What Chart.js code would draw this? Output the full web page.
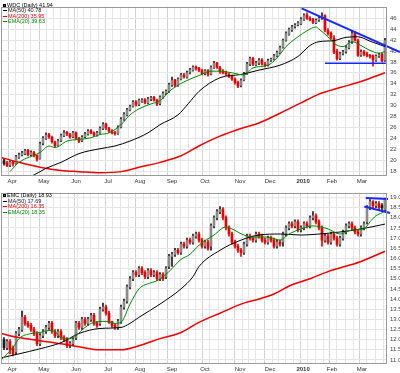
<!DOCTYPE html>
<html>
<head>
<meta charset="utf-8">
<script src="https://cdn.jsdelivr.net/npm/chart.js@4.4.0/dist/chart.umd.min.js"></script>
<style>
  html, body { margin: 0; padding: 0; background: #fff; }
  #wrap { position: relative; width: 400px; height: 373px; overflow: hidden;
          font-family: "Liberation Sans", Arial, sans-serif; }
  canvas { position: absolute; left: 0; }
  .legend { position: absolute; left: 3px; font-size: 5.5px; line-height: 5.5px; white-space: nowrap; }
  .legend .ln { display: inline-block; width: 4px; height: 1px; margin-right: 1px; vertical-align: middle; }
  .legend .ico { display: inline-block; width: 3px; height: 3px; border: 1px solid #000; background: #555;
                 margin-right: 1px; vertical-align: middle; box-sizing: border-box; }
</style>
</head>
<body>
<div id="wrap">
  <canvas id="wdc" width="400" height="186" style="top:0"></canvas>
  <canvas id="emc" width="400" height="187" style="top:186px"></canvas>

  <div class="legend" style="top:2.5px">
    <div style="color:#000"><span class="ico"></span>WDC (Daily) 41.94</div>
    <div style="color:#222"><span class="ln" style="background:#000"></span>MA(50) 40.78</div>
    <div style="color:#e00"><span class="ln" style="background:#e00"></span>MA(200) 35.95</div>
    <div style="color:#080"><span class="ln" style="background:#080"></span>EMA(20) 39.63</div>
  </div>
  <div class="legend" style="top:193.3px">
    <div style="color:#000"><span class="ico"></span>EMC (Daily) 18.93</div>
    <div style="color:#222"><span class="ln" style="background:#000"></span>MA(50) 17.69</div>
    <div style="color:#e00"><span class="ln" style="background:#e00"></span>MA(200) 16.35</div>
    <div style="color:#080"><span class="ln" style="background:#080"></span>EMA(20) 18.35</div>
  </div>
</div>

<script>
// ── x axis: one candle per two sessions, month starts in candle units ──
const months   = ['Apr', 'May', 'Jun', 'Jul', 'Aug', 'Sep', 'Oct', 'Nov', 'Dec', '2010', 'Feb', 'Mar'];
const monthPos = [2.7, 13.3, 24, 34.7, 45.3, 56, 67, 78.7, 88.7, 99.7, 109.3, 119.3];

// ── WDC candles ──
const wdcOpen = [19.9,19.5,19.1,19.7,19.4,20.5,21.0,21.2,21.8,21.0,
  21.4,20.9,20.3,23.1,24.0,24.7,24.2,23.3,22.7,23.6,
  24.5,25.1,24.7,24.3,25.0,24.0,23.6,24.3,24.8,25.4,
  25.0,24.6,25.1,25.8,26.6,25.8,25.3,25.1,24.9,26.1,
  27.5,28.3,29.2,29.9,30.7,30.2,30.8,31.1,30.5,31.2,
  31.5,31.0,30.4,31.5,32.3,32.7,33.8,34.7,33.7,34.9,
  35.6,35.2,36.1,36.5,37.1,36.8,36.4,35.9,36.4,35.8,
  37.0,37.8,36.9,36.3,36.0,35.7,35.4,34.8,34.2,33.7,
  34.7,35.9,37.6,38.7,37.5,37.8,38.4,37.6,37.4,38.3,
  38.5,39.1,39.7,40.7,42.0,43.1,43.9,44.5,44.8,45.0,
  45.8,46.6,45.9,45.8,45.2,45.7,46.1,46.5,43.7,43.3,
  42.3,39.9,38.7,39.6,39.9,40.6,41.7,43.3,41.9,39.3,
  39.9,39.5,39.2,39.1,38.3,39.1,39.4,38.3];
const wdcHigh = [20.2,19.8,19.9,19.9,20.9,21.3,21.6,22.0,22.0,21.7,
  21.6,21.0,23.3,24.3,25.0,24.9,24.4,23.5,23.8,24.8,
  25.4,25.3,24.9,25.3,25.2,24.2,24.5,25.1,25.6,25.6,
  25.2,25.3,26.1,26.9,26.8,26.0,25.6,25.3,26.3,27.8,
  28.7,29.5,30.1,30.9,30.9,31.2,31.3,31.3,31.5,31.7,
  31.7,31.2,31.8,32.5,32.9,34.1,35.2,34.8,35.1,35.9,
  35.9,36.3,36.8,37.3,37.3,37.0,36.7,36.6,36.6,37.3,
  38.1,37.9,37.2,36.6,36.3,36.0,35.6,35.1,34.5,34.9,
  36.1,37.9,38.9,38.8,38.1,38.6,38.6,37.9,38.5,38.7,
  39.4,40.0,40.9,42.2,43.5,44.2,44.7,45.0,45.4,46.1,
  46.8,47.0,46.3,46.0,45.9,46.3,47.0,46.6,44.1,43.5,
  42.8,40.3,39.8,40.1,41.0,41.9,43.6,43.6,42.2,40.2,
  40.1,39.8,39.4,39.3,39.3,39.6,39.6,42.3];
const wdcLow = [19.1,18.8,18.8,18.9,19.2,20.3,20.8,21.0,20.8,20.8,
  20.6,19.8,20.2,22.8,23.8,24.0,23.1,22.3,22.5,23.4,
  24.3,24.5,24.0,24.1,23.8,23.2,23.4,24.1,24.6,24.8,
  24.3,24.4,24.9,25.6,25.6,25.1,24.8,24.6,24.7,25.9,
  27.3,28.1,29.0,29.7,29.9,30.0,30.6,30.3,30.3,30.9,
  30.8,30.0,30.1,31.3,32.0,32.4,33.5,33.4,33.5,34.7,
  35.0,35.0,35.8,36.3,36.5,36.2,35.6,35.6,35.4,35.6,
  36.8,36.8,35.9,35.8,35.5,35.1,34.6,33.9,33.3,33.4,
  34.5,35.7,37.3,37.3,37.3,37.5,37.4,37.1,37.2,38.1,
  38.3,38.9,39.5,40.5,41.8,42.9,43.6,44.2,44.6,44.8,
  45.6,45.8,45.5,45.0,45.0,45.4,45.8,43.5,42.9,42.1,
  39.5,38.3,38.4,39.3,39.6,40.4,41.4,41.8,39.0,39.0,
  39.1,38.9,38.7,37.2,38.1,38.8,38.0,38.1];
const wdcClose = [19.4,19.0,19.6,19.3,20.6,21.0,21.3,21.7,21.0,21.4,
  20.8,20.2,23.0,24.0,24.6,24.3,23.4,22.6,23.5,24.5,
  25.0,24.8,24.3,25.0,24.0,23.5,24.2,24.8,25.3,25.0,
  24.6,25.0,25.8,26.5,25.9,25.3,25.0,24.9,26.0,27.5,
  28.4,29.2,29.8,30.6,30.2,30.9,31.0,30.6,31.2,31.4,
  31.0,30.3,31.5,32.2,32.6,33.8,34.6,33.7,34.8,35.6,
  35.3,36.0,36.5,37.0,36.8,36.5,35.9,36.3,35.7,37.0,
  37.8,37.0,36.2,36.0,35.8,35.4,34.9,34.2,33.6,34.6,
  35.8,37.6,38.6,37.6,37.8,38.3,37.7,37.4,38.2,38.4,
  39.1,39.7,40.6,41.9,43.2,43.9,44.4,44.7,45.1,45.8,
  46.5,46.0,45.8,45.3,45.6,46.0,46.4,43.8,43.2,42.5,
  39.8,38.6,39.5,39.8,40.6,41.6,43.2,42.0,39.2,39.8,
  39.4,39.2,39.0,38.4,39.0,39.3,38.2,41.9];

// WDC overlays as [candle, value]
const wdcMa50 = [[7,16.6],[9,17.0],[14,18.5],[19,19.6],[25,21.2],[32,22.1],[37,22.6],[42,23.5],[48,25.0],
  [52,26.5],[58,28.3],[61.5,30.4],[65,32.6],[72,35.1],[79,35.7],[85,36.5],[92,37.4],[98,39.0],[102,41.0],
  [105,41.7],[110,41.9],[114,42.5],[118,42.6],[122,41.8],[127,40.8]];
const wdcMa200 = [[-1,20.5],[5,19.6],[12,18.7],[19,18.1],[25,17.9],[32,17.7],[39,17.9],[45,18.7],[52,19.6],
  [59,20.8],[65,22.6],[72,24.4],[79,25.8],[85,26.8],[92,28.6],[99,30.5],[105,32.1],[112,33.3],[119,34.4],[127,36.0]];
const wdcEma20 = [[2,17.9],[5,19.6],[12,21.4],[15,22.6],[17,22.3],[21,23.5],[25,23.8],[29,24.1],[32,24.7],
  [35,25.0],[39,26.5],[42,28.3],[45,29.4],[49,30.3],[52,30.9],[56,33.0],[61,34.6],[65,35.5],[69,36.3],
  [72,36.3],[76,36.0],[80,35.6],[83,36.9],[88,37.4],[91,38.7],[94,40.8],[98,42.6],[101,43.7],[104,44.4],
  [105,44.0],[108,42.6],[110,41.4],[113,40.8],[116,41.7],[119,41.0],[122,40.1],[125,39.6],[127,39.9]];
const wdcResist  = [[99.2,47.8],[132,39.8]];
const wdcSupport = [[107,37.75],[127.3,37.75]];
const wdcTicks = [18,20,22,24,26,28,30,32,34,36,38,40,42,44,46];

// ── EMC candles ──
const emcOpen = [12.0,11.6,11.9,11.6,11.4,12.3,12.5,13.1,12.8,12.7,
  12.5,12.3,11.8,12.2,12.4,12.6,12.8,12.4,12.2,12.4,
  12.1,12.0,11.7,11.8,12.1,12.8,12.6,13.0,12.8,13.0,
  13.2,12.8,12.8,13.5,13.6,13.3,12.9,12.7,12.6,12.9,
  13.6,13.9,14.6,15.0,15.3,15.2,15.5,15.3,15.1,15.4,
  15.2,15.3,15.0,15.2,15.1,15.6,16.1,16.2,16.4,16.3,
  16.7,16.6,16.9,16.8,17.1,17.2,16.9,16.6,16.8,16.6,
  17.6,18.0,18.3,18.4,18.0,17.5,17.2,16.8,16.6,16.4,
  16.3,16.7,17.1,17.0,16.9,17.2,17.1,16.9,16.8,17.0,
  16.9,16.6,16.8,16.8,17.2,17.5,17.7,17.6,17.8,17.4,
  17.5,17.7,17.6,18.0,18.1,17.8,17.5,16.9,17.1,16.8,
  17.2,17.0,16.7,17.0,17.3,17.6,17.7,17.5,17.3,17.2,
  17.5,17.8,18.5,18.8,18.6,18.7,18.6,18.4];
const emcHigh = [12.1,12.0,12.0,11.7,12.4,12.6,13.4,13.2,12.9,12.8,
  12.6,12.4,12.3,12.5,12.7,12.9,12.9,12.5,12.5,12.5,
  12.2,12.1,11.9,12.1,12.9,12.9,13.1,13.1,13.1,13.3,
  13.3,12.9,13.6,13.8,13.7,13.4,12.9,12.8,13.0,13.7,
  14.0,14.7,15.1,15.4,15.4,15.6,15.6,15.4,15.5,15.5,
  15.4,15.4,15.3,15.3,15.6,16.2,16.3,16.5,16.5,16.8,
  16.8,17.0,17.0,17.2,17.3,17.3,17.0,16.9,16.9,17.7,
  18.1,18.4,18.55,18.5,18.1,17.6,17.3,16.9,16.7,16.5,
  16.8,17.2,17.2,17.1,17.3,17.3,17.2,17.0,17.1,17.1,
  17.0,16.9,16.9,17.3,17.6,17.8,17.8,17.9,17.9,17.6,
  17.8,17.8,18.1,18.3,18.2,17.9,17.6,17.2,17.2,17.3,
  17.3,17.1,17.1,17.4,17.7,17.8,17.8,17.6,17.4,17.6,
  17.8,18.6,18.9,18.85,18.8,18.8,18.7,18.97];
const emcLow = [11.5,11.5,11.3,11.2,11.3,12.2,12.4,12.7,12.6,12.4,
  12.2,11.7,11.7,12.1,12.3,12.5,12.3,12.1,12.1,12.0,
  11.9,11.6,11.6,11.7,12.0,12.5,12.5,12.7,12.7,12.9,
  12.7,12.6,12.7,13.4,13.2,12.8,12.6,12.5,12.5,12.8,
  13.5,13.8,14.5,14.9,15.1,15.1,15.2,15.0,15.0,15.1,
  15.1,14.9,14.9,14.9,15.0,15.5,15.6,16.1,16.2,16.2,
  16.5,16.5,16.7,16.7,17.0,16.8,16.5,16.5,16.4,16.4,
  17.5,17.9,18.2,17.9,17.4,17.1,16.7,16.5,16.3,16.1,
  16.2,16.6,16.9,16.8,16.8,17.0,16.8,16.7,16.7,16.8,
  16.5,16.5,16.6,16.6,17.1,17.4,17.5,17.5,17.3,17.3,
  17.4,17.5,17.5,17.9,17.7,17.4,16.6,16.8,16.7,16.7,
  16.9,16.6,16.6,16.9,17.2,17.5,17.4,17.2,17.1,17.1,
  17.4,17.7,18.4,18.5,18.5,18.4,18.4,18.3];
const emcClose = [11.6,11.9,11.5,11.3,12.3,12.5,13.1,12.8,12.7,12.5,
  12.3,11.8,12.2,12.4,12.6,12.8,12.4,12.2,12.4,12.1,
  12.0,11.7,11.8,12.0,12.8,12.6,13.0,12.8,13.0,13.2,
  12.8,12.7,13.5,13.6,13.3,12.85,12.7,12.6,12.9,13.6,
  13.9,14.6,15.0,15.3,15.2,15.5,15.3,15.1,15.4,15.2,
  15.3,15.0,15.2,15.0,15.5,16.1,16.2,16.4,16.3,16.7,
  16.6,16.9,16.8,17.1,17.2,16.9,16.6,16.8,16.5,17.6,
  18.0,18.3,18.4,18.0,17.5,17.2,16.8,16.6,16.4,16.3,
  16.7,17.1,17.0,16.9,17.2,17.1,16.9,16.8,17.0,16.9,
  16.6,16.8,16.7,17.2,17.5,17.7,17.6,17.8,17.4,17.5,
  17.7,17.6,18.0,18.1,17.8,17.5,16.9,17.1,16.8,17.2,
  17.0,16.7,17.0,17.3,17.6,17.7,17.5,17.3,17.2,17.5,
  17.7,18.5,18.8,18.6,18.7,18.5,18.5,18.93];

const emcMa50 = [[-1,11.1],[5,11.3],[12,11.55],[19,11.85],[25,12.3],[32,12.55],[39,12.6],[42,12.8],[45,13.1],
  [52,13.75],[59,14.5],[63,15.1],[65,15.6],[72,16.4],[79,16.9],[85,17.15],[92,17.2],[99,17.15],[105,17.2],
  [112,17.3],[119,17.45],[127,17.69]];
const emcMa200 = [[-1,12.3],[5,12.1],[12,11.95],[19,11.8],[25,11.65],[32,11.5],[39,11.5],[45,11.7],[52,12.05],
  [59,12.35],[65,12.85],[72,13.3],[79,13.75],[85,14.0],[90,14.25],[96,14.7],[102,15.0],[108,15.35],[119,15.85],[127,16.35]];
const emcEma20 = [[-1,11.0],[3,11.6],[5,12.05],[9,12.3],[12,12.35],[15,12.45],[17,12.4],[19,12.1],[22,12.05],
  [24,12.2],[27,12.6],[30,12.85],[34,12.9],[37,12.8],[39,12.85],[42,13.75],[45,14.5],[49,14.8],[51,14.9],
  [55,15.35],[59,15.95],[62,16.2],[65,16.65],[70,17.15],[74,17.55],[76,17.45],[80,17.15],[83,17.05],[88,17.05],
  [92,16.9],[95,17.2],[99,17.45],[103,17.6],[108,17.45],[112,17.2],[116,17.4],[120,17.45],[122,17.8],
  [124,18.1],[126,18.25],[127,18.35]];
const emcUpper = [[120.6,18.97],[128,18.92]];
const emcLower = [[120.1,18.56],[128.7,18.24]];
const emcTicks = [11,11.5,12,12.5,13,13.5,14,14.5,15,15.5,16,16.5,17,17.5,18,18.5,19];

// ── look ──
const RED = '#ee0000', BLACK = '#1a1a1a';
const GRID = '#e6e6e6', GRID_MONTH = '#d2d2d2', FRAME = '#9a9a9a', BLUE = '#1428ff';
Chart.defaults.font.family = '"Liberation Sans", Arial, sans-serif';
Chart.defaults.font.size = 6;
Chart.defaults.color = '#333';

const monthLabel = new Map(monthPos.map((p, i) => [p, months[i]]));

/** Monthly gridlines plus lighter weekly ones in between. */
function xGridTicks() {
  const out = monthPos.slice();
  for (let v = monthPos[0] - 2.5; v < 127.6; v += 2.5) {
    if (v > -0.9 && monthPos.every(m => Math.abs(m - v) > 1)) out.push(v);
  }
  return out.sort((a, b) => a - b);
}

const framePlugin = {
  id: 'frame',
  afterDraw(chart) {
    const { ctx, chartArea: a } = chart;
    ctx.save();
    ctx.strokeStyle = FRAME;
    ctx.lineWidth = 1;
    ctx.strokeRect(Math.round(a.left) + 0.5, Math.round(a.top) + 0.5,
                   Math.round(a.right - a.left) - 1, Math.round(a.bottom - a.top) - 1);
    ctx.restore();
  },
};

function pts(arr) { return arr.map(([x, y]) => ({ x, y })); }

function line(data, color, width, extra) {
  return Object.assign({
    type: 'line', data: pts(data), borderColor: color, borderWidth: width,
    pointRadius: 0, fill: false, cubicInterpolationMode: 'monotone',
  }, extra || {});
}

/** Candle bodies and wicks as two floating-bar datasets (hollow look for up candles). */
function candles(o, h, l, c) {
  const base = c.map((v, i) => (i > 0 && v < c[i - 1] ? RED : BLACK));
  const body = c.map((v, i) => (v > o[i] ? (base[i] === RED ? '#f58a8a' : '#8c8c8c') : base[i]));
  return [
    { type: 'bar', data: c.map((v, i) => ({ x: i, y: [o[i], v] })), backgroundColor: body,
      borderWidth: 0, barThickness: 2, minBarLength: 1, grouped: false },
    { type: 'bar', data: h.map((v, i) => ({ x: i, y: [l[i], v] })), backgroundColor: base,
      barThickness: 1, grouped: false },
  ];
}

function makeChart(id, o) {
  return new Chart(document.getElementById(id), {
    type: 'bar',
    data: {
      datasets: [
        ...o.trend.map(t => line(t.data, BLUE, t.width, { clip: false, cubicInterpolationMode: 'default', tension: 0 })),
        line(o.ema, '#008a00', 1),
        line(o.ma50, '#000', 1),
        line(o.ma200, '#f00000', 1.5),
        ...candles(o.open, o.high, o.low, o.close),
      ],
    },
    options: {
      responsive: false,
      animation: false,
      events: [],
      layout: { padding: { top: o.padTop, left: 1, right: 0, bottom: 0 } },
      plugins: { legend: { display: false }, tooltip: { enabled: false } },
      scales: {
        x: {
          type: 'linear', min: -1, max: 127.67, offset: false,
          afterBuildTicks: s => { s.ticks = xGridTicks().map(value => ({ value })); },
          afterFit: s => { s.height = o.xHeight; },
          grid: { color: c => (monthLabel.has(c.tick && c.tick.value) ? GRID_MONTH : GRID), drawTicks: false },
          border: { display: false },
          ticks: {
            autoSkip: false, maxRotation: 0, padding: 2,
            callback: v => monthLabel.get(v) || '',
            font: c => ({ size: 6, weight: c.tick && c.tick.label === '2010' ? 'bold' : 'normal' }),
            color: '#333',
          },
        },
        y: {
          type: 'linear', position: 'right', min: o.yMin, max: o.yMax,
          afterBuildTicks: s => { s.ticks = o.ticks.map(value => ({ value })); },
          afterFit: s => { s.width = 13; },
          grid: { color: GRID, drawTicks: false },
          border: { display: false },
          ticks: { padding: 3, color: '#444', callback: o.fmt },
        },
      },
    },
    plugins: [framePlugin],
  });
}

makeChart('wdc', {
  open: wdcOpen, high: wdcHigh, low: wdcLow, close: wdcClose,
  ma50: wdcMa50, ma200: wdcMa200, ema: wdcEma20,
  trend: [{ data: wdcResist, width: 2 }, { data: wdcSupport, width: 1.5 }],
  yMin: 17.1, yMax: 48.13, ticks: wdcTicks, fmt: v => String(v),
  padTop: 2, xHeight: 10,
});

makeChart('emc', {
  open: emcOpen, high: emcHigh, low: emcLow, close: emcClose,
  ma50: emcMa50, ma200: emcMa200, ema: emcEma20,
  trend: [{ data: emcUpper, width: 2 }, { data: emcLower, width: 2 }],
  yMin: 10.8, yMax: 19.24, ticks: emcTicks, fmt: v => v.toFixed(1),
  padTop: 4, xHeight: 9,
});
</script>
</body>
</html>
